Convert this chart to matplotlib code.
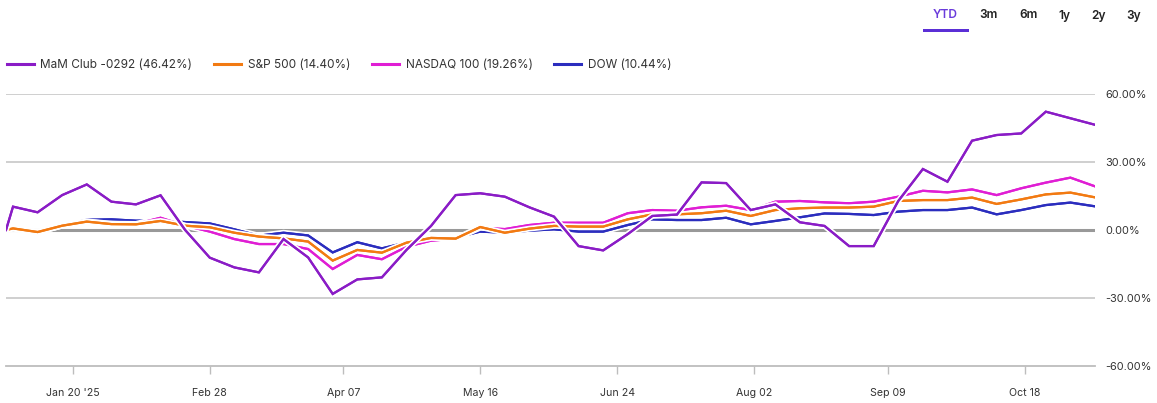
import matplotlib
matplotlib.use('Agg')
import matplotlib.pyplot as plt
import matplotlib.patheffects as pe
from matplotlib.lines import Line2D
from matplotlib.patches import Rectangle
import pandas as pd

# ---------------- data ----------------
dates = [pd.Timestamp('2025-01-01')] + list(pd.date_range('2025-01-03', periods=45, freq='7D'))

mam = [0, 10.3, 7.8, 15.4, 20.1, 12.5, 11.3, 15.3, 0.0, -12.2, -16.5, -18.7, -4.0, -12.1, -28.2,
       -21.8, -20.9, -8.8, 1.8, 15.4, 16.2, 14.7, 10.0, 5.9, -7.1, -9.0, -1.8, 6.2, 6.8, 21.0,
       20.7, 8.8, 11.3, 3.4, 1.8, -7.1, -7.1, 12.8, 26.9, 21.3, 39.4, 41.9, 42.6, 52.2, 49.3, 46.42]
sp500 = [0, 0.7, -0.9, 1.9, 3.7, 2.6, 2.5, 4.0, 1.9, 1.2, -1.2, -2.9, -3.7, -5.1, -13.5,
         -8.8, -10.0, -5.6, -3.5, -3.8, 1.3, -1.2, 0.6, 1.8, 1.5, 1.5, 4.7, 6.9, 6.9, 7.4,
         8.5, 6.2, 8.8, 9.6, 9.9, 9.9, 10.3, 12.8, 13.2, 13.2, 14.3, 11.5, 13.5, 15.7, 16.5, 14.40]
nasdaq = [0, 0.7, -0.9, 1.9, 3.8, 2.8, 2.7, 5.4, 1.9, -0.7, -4.0, -6.2, -6.2, -8.4, -17.2,
          -11.0, -12.9, -7.4, -4.7, -3.8, 1.0, 0.4, 2.2, 3.2, 3.2, 3.2, 7.4, 8.8, 8.5, 10.0,
          10.7, 8.8, 12.5, 12.8, 12.2, 11.8, 12.5, 14.7, 17.3, 16.6, 17.9, 15.4, 18.4, 20.9, 23.1, 19.26]
dow = [0, 0.6, -0.9, 2.0, 4.5, 4.7, 4.1, 4.2, 3.5, 2.9, 0.3, -2.5, -1.2, -2.4, -9.9,
       -5.4, -8.1, -5.5, -3.2, -3.4, -0.7, -1.2, -0.3, 0.3, -0.7, -0.7, 2.2, 4.7, 4.4, 4.4,
       5.4, 2.5, 4.0, 5.6, 7.3, 7.1, 6.6, 8.1, 8.8, 8.8, 9.9, 6.9, 8.8, 11.0, 12.1, 10.44]

legend_labels = ['MaM Club -0292 (46.42%)', 'S&P 500 (14.40%)', 'NASDAQ 100 (19.26%)', 'DOW (10.44%)']
colors = ['#8A1CC6', '#F27A12', '#E01ED4', '#2B2DBE']

tick_dates = ['2025-01-20', '2025-02-28', '2025-04-07', '2025-05-16',
              '2025-06-24', '2025-08-02', '2025-09-09', '2025-10-18']
tick_labels = ["Jan 20 '25", 'Feb 28', 'Apr 07', 'May 16', 'Jun 24', 'Aug 02', 'Sep 09', 'Oct 18']
y_ticks = [-60, -30, 0, 30, 60]
y_labels = ['-60.00%', '-30.00%', '0.00%', '30.00%', '60.00%']
range_buttons = ['YTD', '3m', '6m', '1y', '2y', '3y']

# ---------------- figure ----------------
plt.rcParams['font.family'] = ['Inter', 'DejaVu Sans']
W, H = 1157, 403
fig = plt.figure(figsize=(W / 100, H / 100), dpi=100)
L, R, T, B = 6, 1095, 94, 366
ax = fig.add_axes([L / W, 1 - B / H, (R - L) / W, (B - T) / H])

ax.set_ylim(-60, 60)
ax.set_xlim(dates[0], dates[-1])
for s in ['top', 'left', 'right']:
    ax.spines[s].set_visible(False)
ax.spines['bottom'].set_color('#bdbdbd')
ax.spines['bottom'].set_linewidth(1.3)

for yv in [30, 60, -30]:
    ax.axhline(yv, color='#cccccc', lw=1.3, zorder=1)
ax.axhline(0, color='#999999', lw=2.2, zorder=1)

series = [mam, sp500, nasdaq, dow]
zorders = [6, 5, 4, 3]
handles = []
for vals, c, z, lab in zip(series, colors, zorders, legend_labels):
    ax.plot(dates, vals, color=c, lw=1.6, zorder=z, solid_joinstyle='miter',
            path_effects=[pe.withStroke(linewidth=4.2, foreground='white'), pe.Normal()])
    handles.append(Line2D([], [], color=c, lw=2.2, label=lab))

ax.set_xticks(pd.to_datetime(tick_dates))
ax.set_xticklabels(tick_labels)
ax.tick_params(axis='x', direction='out', length=6, width=1, color='#bdbdbd',
               pad=9.5, labelsize=7.6, labelcolor='#333333')

ax.yaxis.tick_right()
ax.set_yticks(y_ticks)
ax.set_yticklabels(y_labels)
ax.tick_params(axis='y', length=0, pad=7.5, labelsize=7.9, labelcolor='#333333')
for t in ax.get_yticklabels():
    t.set_horizontalalignment('left')

fig.legend(handles=handles, loc='center left', bbox_to_anchor=(6.7 / W, 1 - 65 / H),
           frameon=False, borderpad=0, borderaxespad=0, ncol=4, handlelength=2.3,
           handletextpad=0.55, columnspacing=1.85, fontsize=8.5, labelcolor='#333333')

# range selector buttons
btn_x = [945.7, 988.7, 1028.7, 1064.8, 1098.7, 1133.7]
for name, bx in zip(range_buttons, btn_x):
    col = '#6A3BDB' if name == 'YTD' else '#222222'
    fig.text(bx / W, 1 - 15.5 / H, name, ha='center', va='center', fontsize=8.6,
             fontweight='semibold', color=col)
fig.add_artist(Rectangle((922.7 / W, 1 - 32 / H), (969 - 922.7) / W, 3 / H,
                         transform=fig.transFigure, color='#5B2FD6', lw=0))

fig.savefig('out.png', dpi=100)
